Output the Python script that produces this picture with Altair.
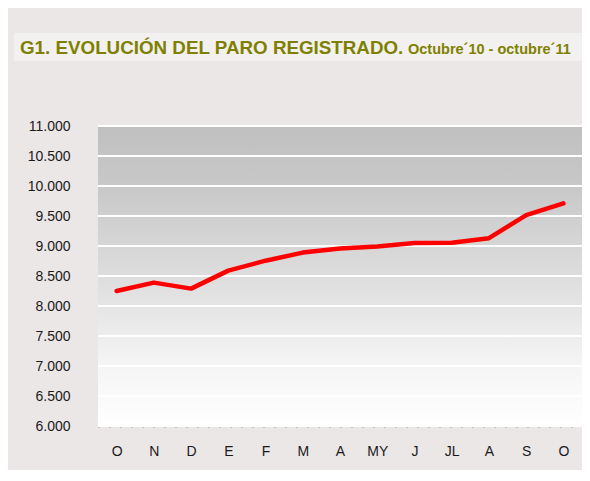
import altair as alt
import pandas as pd

# ---- data ----
meses = ["O", "N", "D", "E", "F", "M", "A", "MY", "J", "JL", "A", "S", "O"]
paro = [8250, 8390, 8290, 8590, 8755, 8890, 8960, 8990, 9050, 9055, 9130, 9515, 9710]
y_ticks = [6000, 6500, 7000, 7500, 8000, 8500, 9000, 9500, 10000, 10500, 11000]
titulo = "G1. EVOLUCIÓN DEL PARO REGISTRADO."
subtitulo = "Octubre´10 - octubre´11"

W, H = 484, 300
FONT = "Liberation Sans"
OLIVE = "#808000"

df = pd.DataFrame({"idx": list(range(len(meses))), "mes": meses, "valor": paro})
grid_df = pd.DataFrame({"valor": y_ticks})

label_arr = "[" + ",".join("'%s'" % m for m in meses) + "]"

yscale = alt.Scale(domain=[6000, 11000], nice=False, zero=False)
xscale = alt.Scale(type="point", padding=0.5)

yaxis = alt.Axis(
    title=None,
    values=y_ticks,
    labelExpr="replace(format(datum.value, ',d'), ',', '.')",
    labelFont=FONT,
    labelFontSize=14,
    labelColor="#1a1a1a",
    labelPadding=28,
    ticks=False,
    domain=False,
    grid=False,
)

gradient = alt.LinearGradient(
    gradient="linear",
    stops=[
        alt.GradientStop(color="#C0C0C0", offset=0),
        alt.GradientStop(color="#C8C8C8", offset=0.2),
        alt.GradientStop(color="#DDDDDD", offset=0.5),
        alt.GradientStop(color="#F5F5F5", offset=0.8),
        alt.GradientStop(color="#FFFFFF", offset=1),
    ],
    x1=0, x2=0, y1=0, y2=1,
)

one = pd.DataFrame({"a": [0]})

band = alt.Chart(one).mark_rect(color="#F3F1F0").encode(
    x=alt.value(-84), x2=alt.value(490), y=alt.value(-93), y2=alt.value(-65)
)

bg = alt.Chart(one).mark_rect(color=gradient).encode(
    x=alt.value(0), x2=alt.value(W), y=alt.value(0), y2=alt.value(H)
)

grid = alt.Chart(grid_df).mark_rule(color="white", strokeWidth=2).encode(
    y=alt.Y("valor:Q", scale=yscale, axis=yaxis),
    x=alt.value(0), x2=alt.value(W),
)

line = alt.Chart(df).mark_line(color="#FF0000", strokeWidth=4.5, strokeCap="round", strokeJoin="round").encode(
    x=alt.X(
        "idx:O",
        scale=xscale,
        sort=None,
        axis=alt.Axis(
            title=None,
            labelExpr=label_arr + "[datum.value]",
            labelAngle=0,
            labelFont=FONT,
            labelFontSize=14,
            labelColor="#1a1a1a",
            labelPadding=18,
            ticks=False,
            domain=True,
            domainColor="#9a9a9a",
            domainWidth=3,
            domainDash=[1, 10],
        ),
    ),
    y=alt.Y("valor:Q", scale=yscale, axis=yaxis),
)

t1 = alt.Chart(pd.DataFrame({"t": [titulo]})).mark_text(
    align="left", baseline="alphabetic", font=FONT, fontSize=18.8, fontWeight="bold", color=OLIVE
).encode(text="t:N", x=alt.value(-78), y=alt.value(-72))

t2 = alt.Chart(pd.DataFrame({"t": [subtitulo]})).mark_text(
    align="left", baseline="alphabetic", font=FONT, fontSize=14.5, fontWeight="bold", color=OLIVE
).encode(text="t:N", x=alt.value(310), y=alt.value(-72))

chart = alt.layer(band, bg, grid, line, t1, t2).properties(
    width=W,
    height=H,
    background="#ECE7E7",
    padding={"left": 90, "top": 118, "right": 0, "bottom": 44},
    autosize=alt.AutoSizeParams(type="none"),
).configure_view(stroke=None)

chart.save("out.html", embed_options={"renderer": "svg", "actions": False})
